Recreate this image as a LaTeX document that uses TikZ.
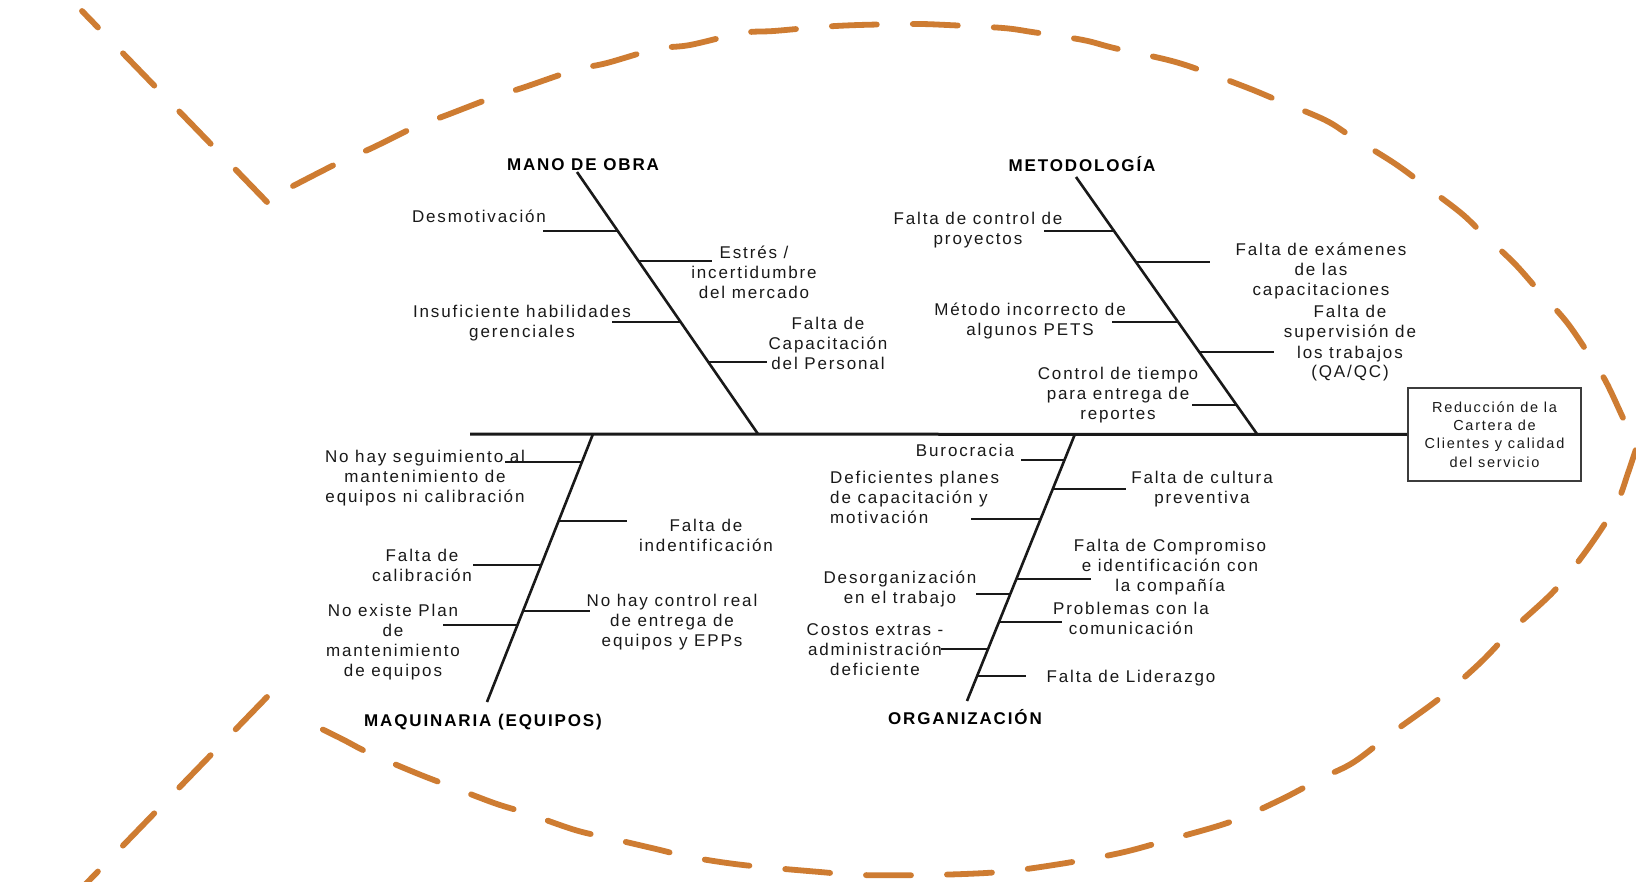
\documentclass[tikz,border=0pt]{standalone}
\usepackage{fontspec}
\setmainfont{Liberation Sans}[LetterSpace=11]
\definecolor{fishline}{RGB}{206,124,50}
\definecolor{ink}{RGB}{25,25,25}
\begin{document}
% Multi-line cause labels are anchored on the cap middle of their last line,
% so each one sits (lines-1) x 10pt below the visual centre of its block.
\begin{tikzpicture}[x=1pt,y=-1pt,
  outline/.style={draw=fishline, line width=5.8pt, line cap=round, dash pattern=on 45pt off 36pt},
  bone/.style={draw=ink, line width=2.6pt},
  spineline/.style={draw=ink, line width=3pt},
  cause/.style={inner sep=0pt, align=center, text=ink, font=\fontsize{17}{20}\selectfont, text height=12pt, text depth=0pt},
  head/.style={inner sep=0pt, text=black, font=\bfseries\fontsize{17}{20}\selectfont, text height=12pt, text depth=0pt},
  effect/.style={draw=ink!85, line width=2pt, minimum width=173pt, minimum height=93pt, inner sep=0pt, align=center, text=ink,
    font=\fontsize{14.5}{18.3}\selectfont\addfontfeature{LetterSpace=12}}]

\fill[white] (0,0) rectangle (1636,882);
\useasboundingbox (0,0) rectangle (1636,882);

% ---- fish outline ----
\coordinate (tu1) at (267,202); \coordinate (tu2) at (82,11);
\coordinate (tl1) at (267,697); \coordinate (tl2) at (78,892);
\draw[outline] (tu1) -- (tu2);
\draw[outline] (tl1) -- (tl2);
\draw[outline] plot[smooth, tension=0.55] coordinates {
  (293,186) (340,162) (372,148) (415,127) (447,115) (494,97) (525,87) (575,70)
  (607,63) (656,49) (690,45) (742,33) (774,31) (820,27) (859,25) (915,24)
  (947,25) (1003,28) (1032,32) (1083,40) (1114,48) (1168,60) (1200,70) (1248,88)
  (1277,100) (1325,120) (1352,137) (1394,163) (1424,185) (1461,213) (1482,233)
  (1514,263) (1538,290) (1565,320) (1584,347) (1605,380) (1624,420) (1637,446)}
  -- plot[smooth, tension=0.55] coordinates {
  (1637,446) (1628,473) (1616,505) (1589,547) (1555,590) (1512,630) (1480,663)
  (1440,698) (1392,733) (1354,762) (1322,778) (1280,800) (1230,822) (1168,840)
  (1120,853) (1060,864) (1000,872) (930,875) (860,875) (820,872) (743,865)
  (690,857) (656,849) (609,838) (575,830) (526,813) (494,803) (447,785)
  (416,773) (369,753) (340,738) (293,715)};

% ---- effect and spine ----
\node[effect] (eff) at (1494.5,434.5) {Reducción de la\\Cartera de\\Clientes y calidad\\del servicio};
\coordinate (tailend) at (470,434);
\draw[spineline] (tailend) -- (eff.west);

% ---- main bones ----
\coordinate (mt) at (577,172);  \coordinate (mb) at (758,434);
\coordinate (et) at (1076,177); \coordinate (eb) at (1257,434);
\coordinate (qt) at (593,434);  \coordinate (qb) at (487,702);
\coordinate (ot) at (1075,434); \coordinate (ob) at (967,701);
\draw[bone] (mt) -- (mb);
\draw[bone] (et) -- (eb);
\draw[bone] (qt) -- (qb);
\draw[bone] (ot) -- (ob);

\node[head] (hmano) at (583,165) {MANO DE OBRA};
\node[head] (hmet) at (1082,166) {METODOLOGÍA};
\node[head] (hmaq) at (483,720) {MAQUINARIA (EQUIPOS)};
\node[head] (horg) at (965,718) {ORGANIZACIÓN};

% ---- MANO DE OBRA ----
\node[cause] (m1) at (479,217) {Desmotivación};
\node[cause] (m2) at (754,293) {Estrés /\\incertidumbre\\del mercado};
\node[cause] (m3) at (522,332) {Insuficiente habilidades\\gerenciales};
\node[cause] (m4) at (828,364) {Falta de\\Capacitación\\del Personal};
\coordinate (m1a) at (617.8,231); \coordinate (m1z) at (543,231);
\coordinate (m2a) at (638.5,261); \coordinate (m2z) at (712,261);
\coordinate (m3a) at (680.6,322); \coordinate (m3z) at (612,322);
\coordinate (m4a) at (708.3,362); \coordinate (m4z) at (767,362);
\foreach \k in {1,...,4} \draw[bone] (m\k a) -- (m\k z);

% ---- METODOLOGÍA ----
\node[cause] (e1) at (978,239) {Falta de control de\\proyectos};
\node[cause] (e2) at (1321,290) {Falta de exámenes\\de las\\capacitaciones};
\node[cause] (e3) at (1030,330) {Método incorrecto de\\algunos PETS};
\node[cause] (e4) at (1350,372) {Falta de\\supervisión de\\los trabajos\\(QA/QC)};
\node[cause] (e5) at (1118,414) {Control de tiempo\\para entrega de\\reportes};
\coordinate (e1a) at (1114,231);    \coordinate (e1z) at (1044,231);
\coordinate (e2a) at (1135.9,262);  \coordinate (e2z) at (1210,262);
\coordinate (e3a) at (1178.1,322);  \coordinate (e3z) at (1112,322);
\coordinate (e4a) at (1199.3,352);  \coordinate (e4z) at (1274,352);
\coordinate (e5a) at (1236.6,405);  \coordinate (e5z) at (1192,405);
\foreach \k in {1,...,5} \draw[bone] (e\k a) -- (e\k z);

% ---- MAQUINARIA (EQUIPOS) ----
\node[cause] (q1) at (425,496) {No hay seguimiento al\\mantenimiento de\\equipos ni calibración};
\node[cause] (q2) at (706,545) {Falta de\\indentificación};
\node[cause] (q3) at (422,575) {Falta de\\calibración};
\node[cause] (q4) at (672,640) {No hay control real\\de entrega de\\equipos y EPPs};
\node[cause] (q5) at (393,670) {No existe Plan\\de\\mantenimiento\\de equipos};
\coordinate (q1a) at (581.9,462); \coordinate (q1z) at (505,462);
\coordinate (q2a) at (558.6,521); \coordinate (q2z) at (627,521);
\coordinate (q3a) at (541.2,565); \coordinate (q3z) at (473,565);
\coordinate (q4a) at (523,611);   \coordinate (q4z) at (590,611);
\coordinate (q5a) at (517.5,625); \coordinate (q5z) at (443,625);
\foreach \k in {1,...,5} \draw[bone] (q\k a) -- (q\k z);

% ---- ORGANIZACIÓN ----
\node[cause] (o1) at (965,450) {Burocracia};
\node[cause] (o2) at (1202,497) {Falta de cultura\\preventiva};
\node[cause, align=left, anchor=west] (o3) at (830,517) {Deficientes planes\\de capacitación y\\motivación};
\node[cause] (o4) at (1170,585) {Falta de Compromiso\\e identificación con\\la compañía};
\node[cause] (o5) at (900,597) {Desorganización\\en el trabajo};
\node[cause] (o6) at (1131,628) {Problemas con la\\comunicación};
\node[cause] (o7) at (875,669) {Costos extras -\\administración\\deficiente};
\node[cause] (o8) at (1131,676) {Falta de Liderazgo};
\coordinate (o1a) at (1064.5,460); \coordinate (o1z) at (1021,460);
\coordinate (o2a) at (1052.8,489); \coordinate (o2z) at (1126,489);
\coordinate (o3a) at (1040.6,519); \coordinate (o3z) at (971,519);
\coordinate (o4a) at (1016.3,579); \coordinate (o4z) at (1091,579);
\coordinate (o5a) at (1010.3,594); \coordinate (o5z) at (976,594);
\coordinate (o6a) at (999,622);    \coordinate (o6z) at (1062,622);
\coordinate (o7a) at (988,649);    \coordinate (o7z) at (941,649);
\coordinate (o8a) at (977.1,676);  \coordinate (o8z) at (1026,676);
\foreach \k in {1,...,8} \draw[bone] (o\k a) -- (o\k z);
\end{tikzpicture}
\end{document}
